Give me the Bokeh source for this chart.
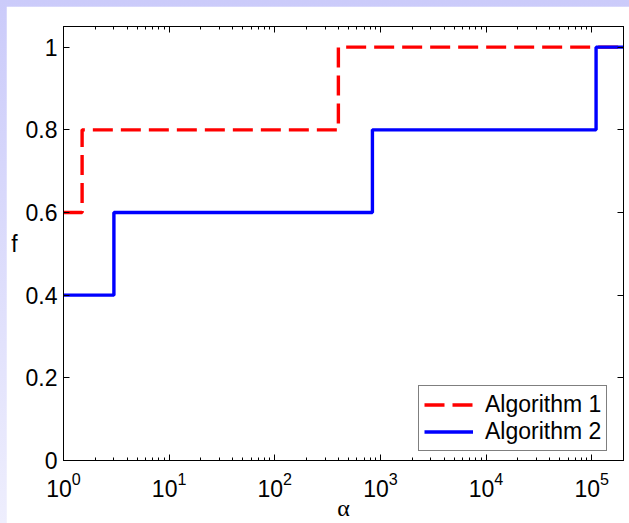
from bokeh.plotting import figure
from bokeh.layouts import column
from bokeh.models import (LogAxis, LinearAxis, FixedTicker, CustomJSTickFormatter,
                          LogTickFormatter, Legend, LegendItem, Range1d)
from bokeh.embed import file_html
from bokeh.resources import INLINE

# data
alg1_alpha = [1, 1.5, 400, 2e5]
alg1_f = [0.6, 0.8, 1.0, 1.0]
alg2_alpha = [1, 3, 840, 1.1e5, 2e5]
alg2_f = [0.4, 0.6, 0.8, 1.0, 1.0]
series_names = ["Algorithm 1", "Algorithm 2"]
x_major = [1, 10, 100, 1000, 10000, 100000]
y_ticks = [0, 0.2, 0.4, 0.6, 0.8, 1.0]

FONT = "Liberation Sans"
FS = "23px"

p = figure(width=623, height=517, x_axis_type="log",
           x_range=Range1d(1, 2e5), y_range=Range1d(0, 1.05),
           output_backend="svg", toolbar_location=None,
           min_border_left=57, min_border_right=6, min_border_top=20, min_border_bottom=62)
p.grid.visible = False
p.background_fill_color = "white"
p.border_fill_color = "white"
p.outline_line_color = "black"

r1 = p.step(alg1_alpha, alg1_f, mode="after", line_color="#ff0000", line_width=3.4, line_dash="20 8")
r2 = p.step(alg2_alpha, alg2_f, mode="after", line_color="#0000ff", line_width=3.4)

x_minor = [m * d for d in x_major for m in range(2, 10)]
xticker = FixedTicker(ticks=x_major, minor_ticks=x_minor)
yticker = FixedTicker(ticks=y_ticks)

yfmt = CustomJSTickFormatter(code="return String(Math.round(tick*10)/10);")
empty = CustomJSTickFormatter(code="return '';")

def style(ax):
    ax.axis_line_color = "black"
    ax.axis_line_width = 1
    ax.major_tick_line_color = "black"
    ax.minor_tick_line_color = "black"
    ax.major_tick_in = 6
    ax.major_tick_out = 0
    ax.minor_tick_in = 3
    ax.minor_tick_out = 0
    ax.major_label_text_font = FONT
    ax.major_label_text_font_size = FS
    ax.major_label_text_color = "black"

xa = p.xaxis[0]
xa.ticker = xticker
xa.formatter = LogTickFormatter()
style(xa)
xa.major_label_standoff = 11
xa.axis_label = "\u03b1"
xa.axis_label_text_font = "Liberation Serif"
xa.axis_label_text_font_style = "normal"
xa.axis_label_text_font_size = "24px"
xa.axis_label_text_color = "black"
xa.axis_label_standoff = -5

ya = p.yaxis[0]
ya.ticker = yticker
ya.formatter = yfmt
style(ya)
ya.major_label_standoff = 6
ya.axis_label = "f"
ya.axis_label_orientation = "horizontal"
ya.axis_label_text_font = FONT
ya.axis_label_text_font_style = "normal"
ya.axis_label_text_font_size = FS
ya.axis_label_text_color = "black"
ya.axis_label_standoff = 5

top = LogAxis(ticker=xticker, formatter=empty, major_label_standoff=0)
style(top)
top.major_label_text_font_size = "0px"
p.add_layout(top, "above")

right = LinearAxis(ticker=yticker, formatter=empty, major_label_standoff=0)
style(right)
right.major_label_text_font_size = "0px"
p.add_layout(right, "right")

legend = Legend(items=[LegendItem(label=series_names[0], renderers=[r1]),
                       LegendItem(label=series_names[1], renderers=[r2])],
                location=(355, 9), padding=5, spacing=0,
                glyph_width=49, glyph_height=27, label_height=27, label_standoff=12,
                label_text_font=FONT, label_text_font_size=FS, label_text_color="black",
                border_line_color="black", border_line_width=1,
                background_fill_color="white", background_fill_alpha=1)
p.add_layout(legend)

page = column(p, styles={"padding-left": "6px", "padding-top": "6px",
                         "background": "linear-gradient(to bottom, #cbcbfa, #eeeefd)"})

open("out.html", "w").write(file_html(page, INLINE))
